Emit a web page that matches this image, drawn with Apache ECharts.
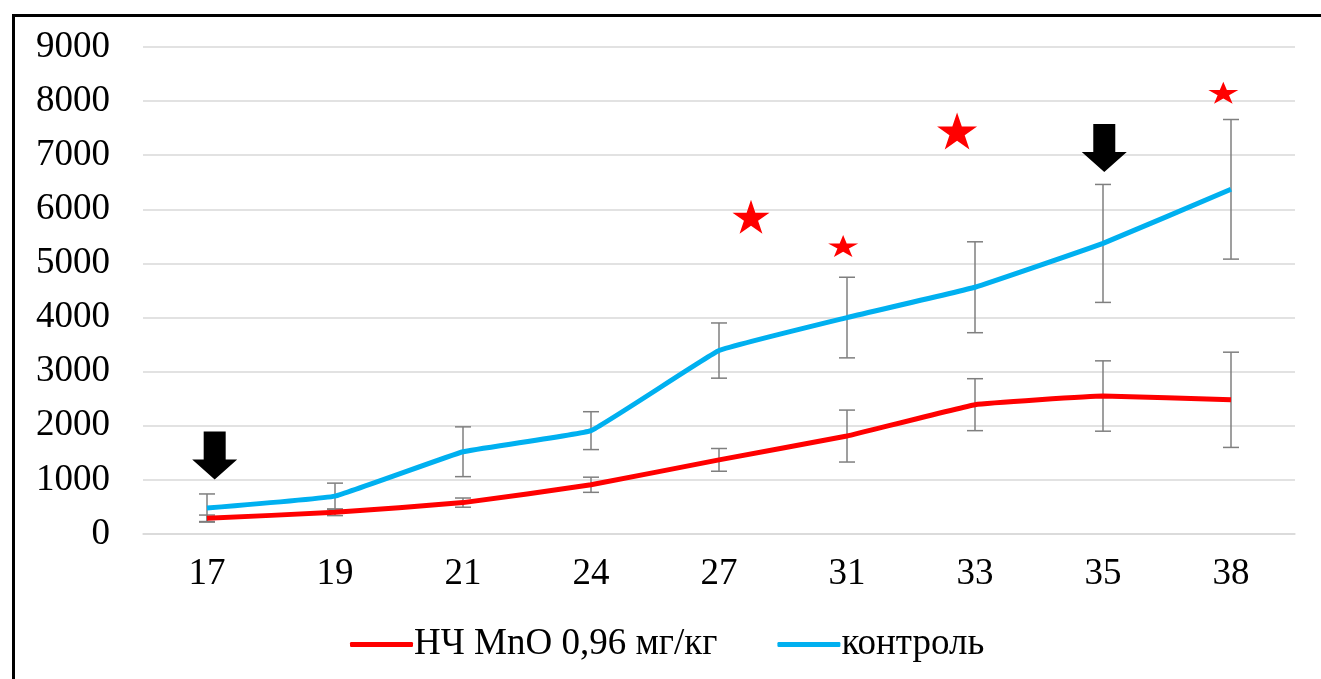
<!DOCTYPE html>
<html><head><meta charset="utf-8">
<script src="https://cdn.jsdelivr.net/npm/echarts@6/dist/echarts.min.js"></script>
<style>html,body{margin:0;padding:0;background:#fff}#c{width:1321px;height:679px}</style>
</head><body><div id="c"></div>
<script>
const categories = ['17','19','21','24','27','31','33','35','38'];
const seriesNames = ['НЧ MnO 0,96 мг/кг','контроль'];
const mnoValues = [290,400,580,910,1370,1810,2390,2550,2480];
const mnoErr = [60,60,85,140,210,480,480,650,880];
const controlValues = [480,700,1520,1910,3390,4000,4560,5370,6370];
const controlErr = [260,240,460,350,510,745,840,1090,1290];
const yTicks = [0,1000,2000,3000,4000,5000,6000,7000,8000,9000];
// annotation marks (in axis coordinates: category index, value)
const starX = [4.25,4.97,5.86,7.94];
const starY = [5864,5322,7448,8156];
const arrowX = [0.06,7.01];
const arrowY = [1451,7134];

const FONT = 'Liberation Serif';
const STAR = 'path://M100,0L122.45,69.1L195.1,69.1L136.3,111.8L158.8,180.9L100,138.2L41.2,180.9L63.7,111.8L4.9,69.1L77.55,69.1Z';
const ARROW = 'path://M11.5,0L33.5,0L33.5,28L45,28L22.5,48L0,28L11.5,28Z';
const starSizes = [[37,34],[30,22],[40,37],[30,22]];

function errData(vals, errs){ return vals.map((v,i)=>[i, v-errs[i], v+errs[i]]); }
function errSeries(vals, errs){
  return {
    type:'custom', z:1, silent:true,
    data: errData(vals, errs),
    renderItem: function(params, api){
      const lo = api.coord([api.value(0), api.value(1)]);
      const hi = api.coord([api.value(0), api.value(2)]);
      const w = 8;
      const st = {stroke:'#7f7f7f', lineWidth:1.5};
      return {type:'group', children:[
        {type:'line', shape:{x1:lo[0],y1:lo[1],x2:hi[0],y2:hi[1]}, style:st},
        {type:'line', shape:{x1:lo[0]-w,y1:lo[1],x2:lo[0]+w,y2:lo[1]}, style:st},
        {type:'line', shape:{x1:hi[0]-w,y1:hi[1],x2:hi[0]+w,y2:hi[1]}, style:st}
      ]};
    }
  };
}

const chart = echarts.init(document.getElementById('c'), null, {renderer:'canvas'});
chart.setOption({
  animation:false,
  backgroundColor:'#fff',
  graphic:[{type:'rect', left:11, top:13, shape:{width:1400, height:800}, style:{fill:'none', stroke:'#000', lineWidth:3}, silent:true, z:100}],
  grid:{left:143, right:26, top:47, bottom:145},
  legend:{
    left:345, top:621, itemWidth:63, itemHeight:5, itemGap:60, icon:'roundRect',
    textStyle:{fontFamily:FONT, fontSize:37, color:'#000', padding:[0,0,0,-4]},
    data: seriesNames
  },
  xAxis:[
    {type:'category', data:categories, boundaryGap:true,
     axisLine:{show:true, lineStyle:{color:'#d9d9d9', width:1.5}}, axisTick:{show:false},
     axisLabel:{fontFamily:FONT, fontSize:37, color:'#000', margin:22}},
    {type:'value', min:-0.5, max:8.5, show:false}
  ],
  yAxis:{type:'value', min:yTicks[0], max:yTicks[yTicks.length-1], interval:1000,
    axisLine:{show:false}, axisTick:{show:false},
    splitLine:{lineStyle:{color:'#d9d9d9', width:1.5}},
    axisLabel:{fontFamily:FONT, fontSize:37, color:'#000', margin:33, formatter:(v)=>String(v)}},
  series:[
    errSeries(mnoValues, mnoErr),
    errSeries(controlValues, controlErr),
    {name:seriesNames[0], type:'line', data:mnoValues, smooth:0.08, showSymbol:false, symbol:'none', z:3,
     lineStyle:{color:'#ff0000', width:5}, itemStyle:{color:'#ff0000'}},
    {name:seriesNames[1], type:'line', data:controlValues, smooth:0.08, showSymbol:false, symbol:'none', z:3,
     lineStyle:{color:'#00b0f0', width:5}, itemStyle:{color:'#00b0f0'}},
    {type:'scatter', xAxisIndex:1, silent:true, z:4,
     data: starX.map((x,i)=>({value:[x, starY[i]], symbolSize:starSizes[i]})),
     symbol:STAR, itemStyle:{color:'#ff0000', opacity:1}},
    {type:'scatter', xAxisIndex:1, silent:true, z:4,
     data: arrowX.map((x,i)=>({value:[x, arrowY[i]]})),
     symbol:ARROW, symbolSize:[45,48], itemStyle:{color:'#000', opacity:1}}
  ]
});
</script></body></html>
